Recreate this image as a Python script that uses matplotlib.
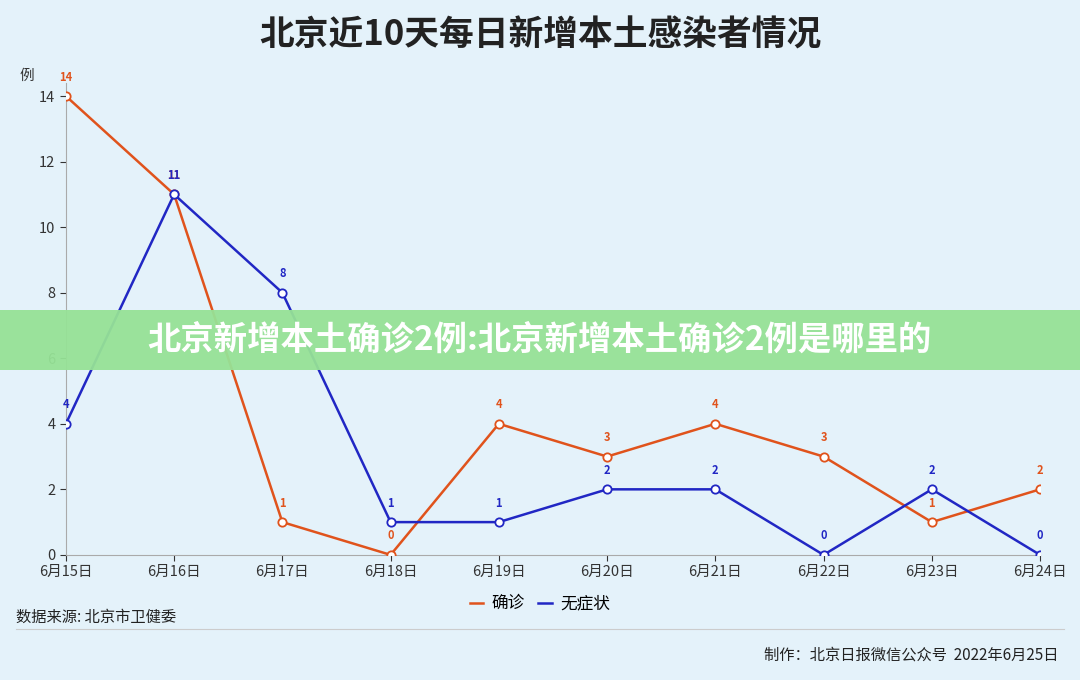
import matplotlib
matplotlib.use("Agg")
import matplotlib.pyplot as plt
from matplotlib.lines import Line2D

plt.rcParams['font.family'] = ['Noto Sans CJK SC', 'DejaVu Sans']

dates = ["6月15日", "6月16日", "6月17日", "6月18日", "6月19日",
         "6月20日", "6月21日", "6月22日", "6月23日", "6月24日"]
confirmed = [14, 11, 1, 0, 4, 3, 4, 3, 1, 2]
asymptomatic = [4, 11, 8, 1, 1, 2, 2, 0, 2, 0]

bg = "#e4f2fa"
orange = "#e0531c"
blue = "#2127c4"

fig = plt.figure(figsize=(10.8, 6.8), dpi=100, facecolor=bg)
ax = fig.add_axes([0.061, 0.184, 0.902, 0.694], facecolor=bg)

x = list(range(len(dates)))
ax.plot(x, confirmed, color=orange, lw=1.8, marker="o", ms=6,
        mfc="white", mec=orange, mew=1.3, zorder=3)
ax.plot(x, asymptomatic, color=blue, lw=1.8, marker="o", ms=6,
        mfc="white", mec=blue, mew=1.3, zorder=3)
for xi, v in zip(x, confirmed):
    ax.annotate(str(v), (xi, v), xytext=(0, 9), textcoords="offset points",
                ha="center", va="bottom", color=orange, fontsize=8, fontweight="bold")
for xi, v in zip(x, asymptomatic):
    ax.annotate(str(v), (xi, v), xytext=(0, 9), textcoords="offset points",
                ha="center", va="bottom", color=blue, fontsize=8, fontweight="bold")

ax.set_xlim(0, 9)
ax.set_ylim(0, 14.4)
ax.set_yticks(range(0, 15, 2))
ax.set_xticks(x)
ax.set_xticklabels(dates)
ax.tick_params(labelsize=10.5, colors="#333333", length=4)
for s in ["top", "right"]:
    ax.spines[s].set_visible(False)
for s in ["left", "bottom"]:
    ax.spines[s].set_color("#aaaaaa")
ax.text(-0.04, 1.0, "例", transform=ax.transAxes, fontsize=10.5, color="#333333",
        ha="center", va="bottom")

fig.text(0.5, 0.948, "北京近10天每日新增本土感染者情况", ha="center", va="center",
         fontsize=25, fontweight="bold", color="#222222")
handles = [Line2D([], [], color=orange, lw=1.8), Line2D([], [], color=blue, lw=1.8)]
fig.legend(handles, ["确诊", "无症状"], loc="center", bbox_to_anchor=(0.5, 0.112),
           ncol=2, frameon=False, fontsize=12, handlelength=0.8,
           handletextpad=0.5, columnspacing=0.8)
fig.text(0.015, 0.092, "数据来源: 北京市卫健委", fontsize=11, color="#222222", va="center")
fig.add_artist(Line2D([0.015, 0.985], [0.075, 0.075], color="#cccccc", lw=0.8))
fig.text(0.98, 0.037, "制作：北京日报微信公众号  2022年6月25日", fontsize=11,
         color="#222222", va="center", ha="right")

fig.patches.append(plt.Rectangle((0, 0.456), 1, 0.088, transform=fig.transFigure,
                                 facecolor="#96e296", alpha=0.95, zorder=10))
fig.text(0.5, 0.5, "北京新增本土确诊2例:北京新增本土确诊2例是哪里的", ha="center",
         va="center", fontsize=24, fontweight="bold", color="white", zorder=11)

fig.savefig("out.png", dpi=100, facecolor=bg)
